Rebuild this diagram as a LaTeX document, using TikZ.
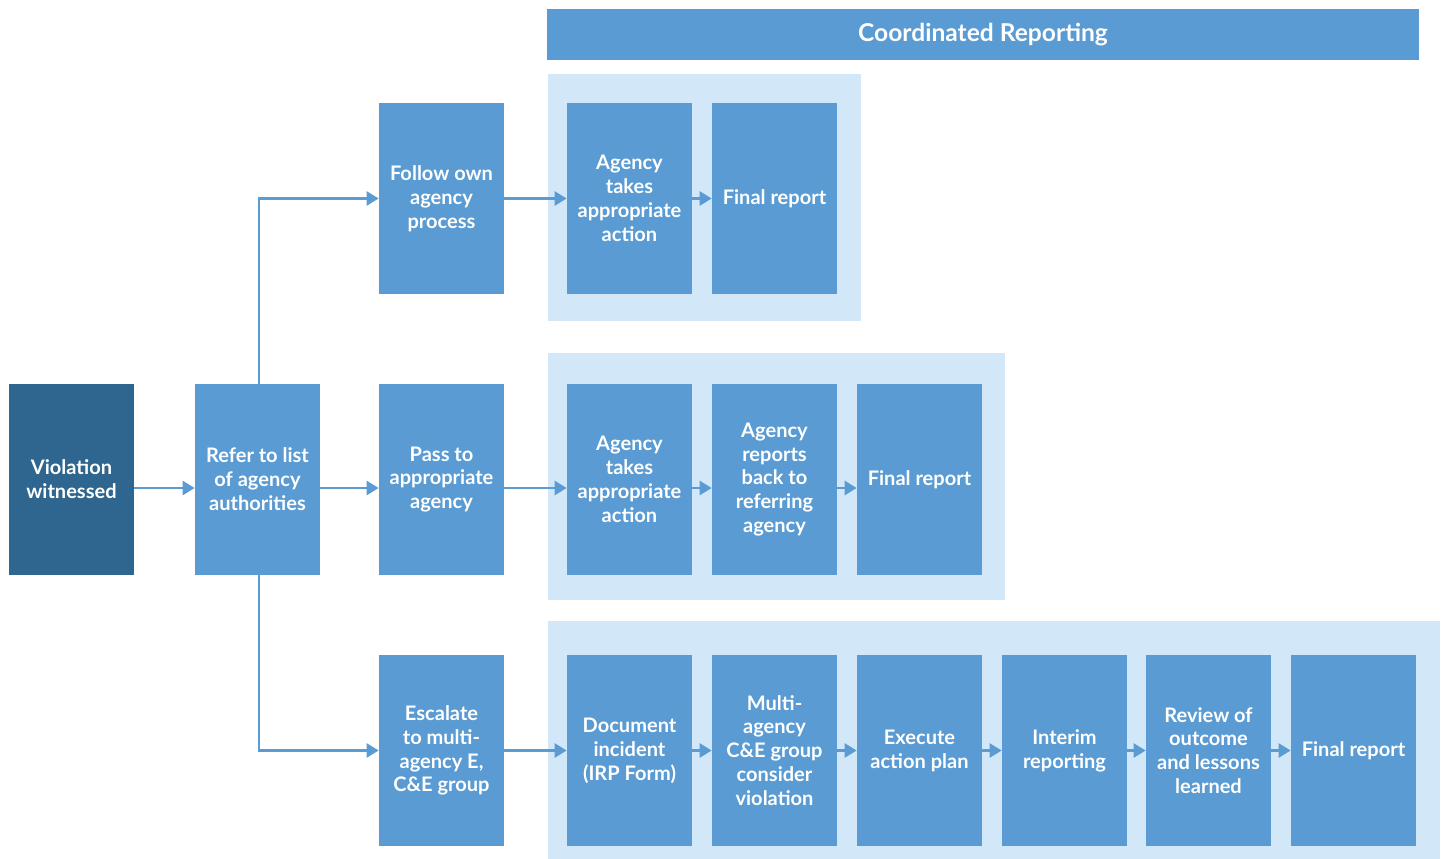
\documentclass[tikz,border=0pt]{standalone}
\usepackage{fontspec}
\setmainfont{Lato}
\usetikzlibrary{arrows.meta}

\definecolor{boxblue}{HTML}{599BD2}
\definecolor{darkblue}{HTML}{2E6690}
\definecolor{paleblue}{HTML}{D2E7F7}

\begin{document}
\begin{tikzpicture}[x=0.02cm, y=-0.02cm,
    stepbox/.style={fill=boxblue, text=white, minimum width=2.5cm, minimum height=3.82cm,
        inner sep=0pt, align=center, font=\bfseries\fontsize{11.4}{13.6}\selectfont},
    flow/.style={boxblue, line width=1.4pt, -{Triangle[length=0.24cm,width=0.28cm]}}]
    \useasboundingbox (0,0) rectangle (1441,859);
    % panels
    \fill[paleblue] (548,74) rectangle (861,321);
    \fill[paleblue] (548,353) rectangle (1005,600);
    \fill[paleblue] (548,621) rectangle (1440,859);
    \node[fill=boxblue, text=white, minimum width=17.44cm, minimum height=1.02cm, inner sep=0pt,
        font=\bfseries\fontsize{14}{16}\selectfont] (header) at (983,34.5) {Coordinated Reporting};
    % first columns
    \node[stepbox, fill=darkblue] (viol) at (71.5,479.5) {Violation\\witnessed};
    \node[stepbox] (refer) at (257.5,479.5) {Refer to list\\of agency\\authorities};
    \node[stepbox] (follow) at (441.5,198.5) {Follow own\\agency\\process};
    \node[stepbox] (pass) at (441.5,479.5) {Pass to\\appropriate\\agency};
    \node[stepbox] (escal) at (441.5,750.5) {Escalate\\to multi-\\agency E,\\C\&E group};
    % top row
    \node[stepbox] (act1) at (629.5,198.5) {Agency\\takes\\appropriate\\action};
    \node[stepbox] (fin1) at (774.5,198.5) {Final report};
    % middle row
    \node[stepbox] (act2) at (629.5,479.5) {Agency\\takes\\appropriate\\action};
    \node[stepbox] (back2) at (774.5,479.5) {Agency\\reports\\back to\\referring\\agency};
    \node[stepbox] (fin2) at (919.5,479.5) {Final report};
    % bottom row
    \node[stepbox] (doc3) at (629.5,750.5) {Document\\incident\\(IRP Form)};
    \node[stepbox] (multi3) at (774.5,750.5) {Multi-\\agency\\C\&E group\\consider\\violation};
    \node[stepbox] (exec3) at (919.5,750.5) {Execute\\action plan};
    \node[stepbox] (inter3) at (1064.5,750.5) {Interim\\reporting};
    \node[stepbox] (review3) at (1208.5,750.5) {Review of\\outcome\\and lessons\\learned};
    \node[stepbox] (fin3) at (1353.5,750.5) {Final report};
    % connectors
    \coordinate (row2) at (0,488);
    \foreach \a/\b in {viol/refer, refer/pass, pass/act2, act2/back2, back2/fin2}
        \draw[flow] (\a.east |- row2) -- (\b.west |- row2);
    \draw[flow] ([xshift=0.03cm]refer.north) |- (follow.west);
    \draw[flow] ([xshift=0.03cm]refer.south) |- (escal.west);
    \foreach \a/\b in {follow/act1, act1/fin1, escal/doc3, doc3/multi3, multi3/exec3,
        exec3/inter3, inter3/review3, review3/fin3}
        \draw[flow] (\a) -- (\b);
\end{tikzpicture}
\end{document}
